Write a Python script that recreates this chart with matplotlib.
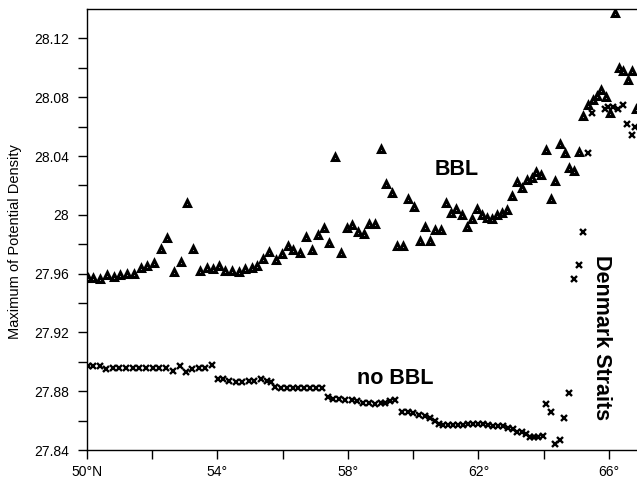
import matplotlib
matplotlib.use('Agg')
import matplotlib.pyplot as plt
from matplotlib.ticker import FixedLocator

plt.rcParams['font.family'] = ['Liberation Sans', 'DejaVu Sans']

# maximum potential density along the section, with the bottom boundary layer
bbl_lat = [50.03, 50.18, 50.41, 50.61, 50.83, 51.03, 51.24, 51.46, 51.65, 51.86,
           52.07, 52.28, 52.47, 52.67, 52.88, 53.07, 53.26, 53.47, 53.68, 53.88,
           54.06, 54.25, 54.45, 54.66, 54.85, 55.05, 55.21, 55.41, 55.59, 55.79,
           55.97, 56.16, 56.33, 56.53, 56.72, 56.89, 57.07, 57.27, 57.43, 57.61,
           57.79, 57.96, 58.13, 58.30, 58.49, 58.66, 58.84, 59.00, 59.17, 59.35,
           59.50, 59.68, 59.85, 60.02, 60.20, 60.36, 60.51, 60.67, 60.84, 61.00,
           61.16, 61.31, 61.49, 61.64, 61.79, 61.94, 62.10, 62.25, 62.40, 62.58,
           62.73, 62.88, 63.04, 63.18, 63.32, 63.48, 63.63, 63.76, 63.91, 64.07,
           64.22, 64.35, 64.50, 64.64, 64.77, 64.92, 65.08, 65.21, 65.36, 65.52,
           65.64, 65.75, 65.90, 66.03, 66.18, 66.30, 66.44, 66.57, 66.69, 66.82]
bbl_sigma = [27.957, 27.957, 27.956, 27.959, 27.958, 27.959, 27.960, 27.960, 27.964, 27.965,
             27.967, 27.977, 27.984, 27.961, 27.968, 28.008, 27.977, 27.962, 27.964, 27.963,
             27.965, 27.962, 27.962, 27.961, 27.963, 27.964, 27.965, 27.970, 27.975, 27.969,
             27.973, 27.979, 27.976, 27.974, 27.985, 27.976, 27.986, 27.991, 27.981, 28.039,
             27.974, 27.991, 27.993, 27.988, 27.987, 27.994, 27.994, 28.045, 28.021, 28.015,
             27.979, 27.979, 28.011, 28.005, 27.982, 27.992, 27.982, 27.990, 27.990, 28.008,
             28.001, 28.004, 28.000, 27.992, 27.997, 28.004, 28.000, 27.998, 27.997, 28.000,
             28.001, 28.003, 28.013, 28.022, 28.018, 28.024, 28.025, 28.029, 28.027, 28.044,
             28.011, 28.023, 28.048, 28.042, 28.032, 28.030, 28.043, 28.067, 28.075, 28.078,
             28.081, 28.085, 28.080, 28.069, 28.137, 28.100, 28.098, 28.092, 28.098, 28.072]

# same, without the bottom boundary layer
nobbl_lat = [50.03, 50.20, 50.41, 50.59, 50.80, 51.00, 51.20, 51.41, 51.61, 51.82,
             52.02, 52.22, 52.43, 52.65, 52.86, 53.04, 53.23, 53.43, 53.63, 53.84,
             54.01, 54.18, 54.37, 54.57, 54.76, 54.96, 55.13, 55.34, 55.51, 55.64,
             55.77, 55.94, 56.13, 56.31, 56.48, 56.66, 56.84, 57.02, 57.20, 57.38,
             57.55, 57.74, 57.92, 58.12, 58.29, 58.47, 58.66, 58.83, 59.00, 59.14,
             59.29, 59.44, 59.65, 59.83, 60.00, 60.19, 60.36, 60.51, 60.67, 60.80,
             60.92, 61.08, 61.23, 61.38, 61.53, 61.69, 61.84, 61.99, 62.15, 62.30,
             62.45, 62.61, 62.76, 62.91, 63.07, 63.19, 63.32, 63.46, 63.58, 63.71,
             63.83, 63.97, 64.07, 64.22, 64.35, 64.50, 64.63, 64.78, 64.92, 65.08,
             65.20, 65.34, 65.49, 65.87, 65.97, 66.11, 66.28, 66.44, 66.56, 66.69, 66.79]
nobbl_sigma = [27.897, 27.897, 27.897, 27.895, 27.896, 27.896, 27.896, 27.896, 27.896, 27.896,
               27.896, 27.896, 27.896, 27.894, 27.897, 27.893, 27.895, 27.896, 27.896, 27.898,
               27.888, 27.888, 27.887, 27.886, 27.886, 27.887, 27.887, 27.888, 27.887, 27.886,
               27.883, 27.882, 27.882, 27.882, 27.882, 27.882, 27.882, 27.882, 27.882, 27.876,
               27.875, 27.875, 27.874, 27.874, 27.873, 27.872, 27.872, 27.871, 27.872, 27.872,
               27.873, 27.874, 27.866, 27.866, 27.865, 27.864, 27.863, 27.862, 27.860, 27.858,
               27.857, 27.857, 27.857, 27.857, 27.857, 27.8575, 27.8575, 27.858, 27.8575, 27.857,
               27.8565, 27.8565, 27.856, 27.855, 27.854, 27.8525, 27.852, 27.851, 27.849, 27.849,
               27.849, 27.8495, 27.871, 27.866, 27.844, 27.847, 27.862, 27.879, 27.956, 27.966,
               27.988, 28.042, 28.069, 28.072, 28.073, 28.073, 28.072, 28.075, 28.062, 28.054, 28.060]

x_major = [50, 54, 58, 62, 66]
x_labels = ['50°N', '54°', '58°', '62°', '66°']
x_minor = [52, 56, 60, 64]
y_major = [27.84, 27.88, 27.92, 27.96, 28.00, 28.04, 28.08, 28.12]
y_labels = ['27.84', '27.88', '27.92', '27.96', '28', '28.04', '28.08', '28.12']
y_minor = [27.86, 27.90, 27.94, 27.98, 28.02, 28.06, 28.10]

W, H = 637, 480


def px(x, y):
    # pixel position (from top-left) -> figure fraction
    return x / W, 1 - y / H


fig = plt.figure(figsize=(W / 100, H / 100), dpi=100)
ax = fig.add_axes([0.1361, 0.0625, 0.8639, 0.91875])

ax.plot(bbl_lat, bbl_sigma, linestyle='none', marker='^', ms=4.6,
        mfc='white', mec='black', mew=2.2)
ax.plot(nobbl_lat, nobbl_sigma, linestyle='none', marker='x', ms=4.4,
        mec='black', mew=1.7)

ax.set_xlim(50, 66.855)
ax.set_ylim(27.84, 28.14)

ax.xaxis.set_major_locator(FixedLocator(x_major))
ax.xaxis.set_minor_locator(FixedLocator(x_minor))
ax.set_xticklabels(x_labels)
ax.yaxis.set_major_locator(FixedLocator(y_major))
ax.yaxis.set_minor_locator(FixedLocator(y_minor))
ax.set_yticklabels(y_labels)

ax.tick_params(which='both', direction='out', length=6.5, width=1.0, colors='black',
               labelsize=10)
ax.tick_params(axis='y', which='major', pad=6)
ax.tick_params(axis='x', which='major', pad=4)
ax.spines['right'].set_visible(False)
for side in ('left', 'bottom', 'top'):
    ax.spines[side].set_linewidth(1.0)

fig.text(*px(15, 242), 'Maximum of Potential Density', rotation=90,
         ha='center', va='center', fontsize=10.5)

fig.text(*px(457, 169.5), 'BBL', fontsize=15.5, fontweight='bold',
         ha='center', va='center')
fig.text(*px(395, 378), 'no BBL', fontsize=15.5, fontweight='bold',
         ha='center', va='center')
fig.text(*px(601, 337.5), 'Denmark Straits', fontsize=15.5, fontweight='bold',
         rotation=-90, ha='center', va='center')

fig.savefig('out.png', dpi=100)
